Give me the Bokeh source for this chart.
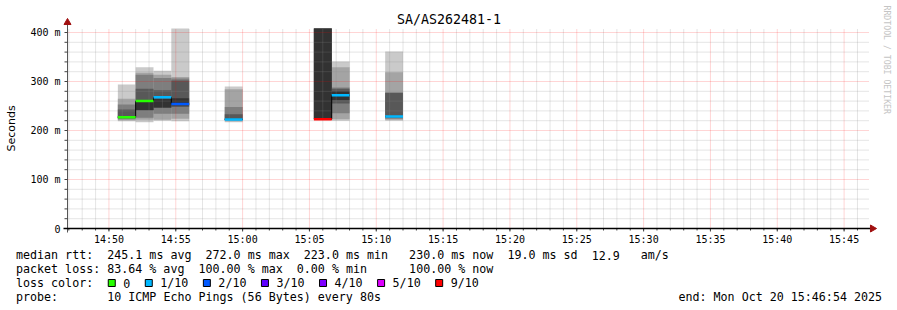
import re
import math
import pandas as pd
from bokeh.plotting import figure
from bokeh.layouts import column
from bokeh.models import Range1d, FixedTicker, DatetimeTickFormatter
from bokeh.core.properties import value
from bokeh.embed import file_html
from bokeh.resources import INLINE

# ---------------- data ----------------
DAY = "2025-10-20"
title_text = "SA/AS262481-1"
start_time = "14:46:54"
end_time = "15:46:54"
step_s = 80

bar_starts = ["14:50:40", "14:52:00", "14:53:20", "14:54:40",
              "14:58:40", "15:05:20", "15:06:40", "15:10:40"]
# sorted ping rtts (ms) per step, 10 pings each
pings = [
    [219, 221, 223, 225, 226, 229, 243, 253, 265, 294],
    [217, 222, 226, 241, 242, 258, 285, 314, 318, 329],
    [220, 222, 234, 246, 247, 265, 282, 307, 314, 322],
    [219, 224, 234, 248, 251, 266, 302, 306, 309, 420],
    [217, 219, 221, 222, 223, 224, 233, 248, 284, 290],
    [223, 223, 223, 223, 223, 420, 420, 420, 420, 420],
    [220, 223, 235, 255, 262, 280, 285, 288, 329, 341],
    [220, 222, 224, 226, 228, 229, 277, 277, 319, 361],
]
medians = [227, 260, 268, 254, 222.5, 223, 272, 228.5]
losses = [0, 0, 1, 2, 1, 9, 1, 1]

smoke_colors = ["#cacaca", "#a4a4a4", "#7e7e7e", "#585858", "#323232"]
loss_keys = [0, 1, 2, 3, 4, 5, 9]
loss_labels = ["0", "1/10", "2/10", "3/10", "4/10", "5/10", "9/10"]
loss_colors = ["#26ff00", "#00b8ff", "#0059ff", "#5e00ff", "#7e00ff", "#dd00ff", "#ff0000"]

x_tick_labels = ["14:50", "14:55", "15:00", "15:05", "15:10", "15:15", "15:20",
                 "15:25", "15:30", "15:35", "15:40", "15:45"]
y_ticks = [0, 100, 200, 300, 400]
y_tick_labels = ["0", "100 m", "200 m", "300 m", "400 m"]
y_minor_step = 20
y_label = "Seconds"

stats_lines = [
    "median rtt:  245.1 ms avg  272.0 ms max  223.0 ms min   230.0 ms now  19.0 ms sd  12.9   am/s",
    "packet loss: 83.64 % avg  100.00 % max  0.00 % min      100.00 % now",
]
loss_title = "loss color:"
probe_line = "probe:       10 ICMP Echo Pings (56 Bytes) every 80s"
end_text = "end: Mon Oct 20 15:46:54 2025"
watermark = "RRDTOOL / TOBI OETIKER"

# ---------------- geometry (pixels) ----------------
W, H = 897, 310
AX_L, AX_R, AX_T, AX_B = 67, 869, 28, 228     # drawing area of the graph
PX_PER_UNIT = 0.49                             # vertical scale
FRAME_B = 233                                  # bottom of the main plotting frame
MAIN_H = 248

def ms(s):
    return pd.Timestamp(f"{DAY} {s}").value / 1e6

t0, t1 = ms(start_time), ms(end_time)
px_x = (t1 - t0) / (AX_R - AX_L)
y_clip = (AX_B - AX_T) / PX_PER_UNIT

def dx(px):
    return t0 + (px - AX_L) * px_x

def dy(py):
    return (AX_B - py) / PX_PER_UNIT

lefts = [ms(s) for s in bar_starts]
rights = [l + step_s * 1000 for l in lefts]

def loss_color(v):
    c = loss_colors[0]
    for k, col in zip(loss_keys, loss_colors):
        if v >= k:
            c = col
    return c

MONO = "DejaVu Sans Mono"

p = figure(width=W, height=MAIN_H, title=None, x_axis_type="datetime",
           x_range=Range1d(dx(0), dx(W)), y_range=Range1d(dy(FRAME_B), dy(0)),
           output_backend="svg", toolbar_location=None, y_axis_location=None,
           min_border_left=0, min_border_right=0,
           min_border_top=0, min_border_bottom=MAIN_H - FRAME_B)
p.background_fill_color = "white"
p.border_fill_color = "white"
p.outline_line_color = None
p.xgrid.visible = False
p.ygrid.visible = False

# smoke layers (clipped at top of graph area like rrdtool)
n = len(pings[0])
for k, col in enumerate(smoke_colors):
    p.quad(left=lefts, right=rights,
           bottom=[min(pp[k], y_clip) for pp in pings],
           top=[min(pp[n - 1 - k], y_clip) for pp in pings],
           fill_color=col, line_color=None)

# grid (dotted), drawn above the smoke
x_ticks = [ms(s + ":00") for s in x_tick_labels]
x_minor = [t for t in (t0 + 6000 + i * 60000 for i in range(60)) if t < t1]
x_minor_only = [t for t in x_minor if all(abs(t - m) > 1 for m in x_ticks)]
y_minor = list(range(y_minor_step, y_ticks[-1] + 1, y_minor_step))
y_minor_only = [v for v in y_minor if v not in y_ticks]
y_major = [v for v in y_ticks if v > 0]

GRID_C, GRID_A = "#8c8c8c", 0.45
MGRID_C, MGRID_A = "#ff0000", 0.33
p.segment(x0=x_minor_only, x1=x_minor_only, y0=0, y1=y_clip,
          line_color=GRID_C, line_alpha=GRID_A, line_width=1, line_dash="1 1")
p.segment(x0=t0, x1=t1, y0=y_minor_only, y1=y_minor_only,
          line_color=GRID_C, line_alpha=GRID_A, line_width=1, line_dash="1 1")
p.segment(x0=x_ticks, x1=x_ticks, y0=0, y1=y_clip,
          line_color=MGRID_C, line_alpha=MGRID_A, line_width=1, line_dash="1 1")
p.segment(x0=t0, x1=t1, y0=y_major, y1=y_major,
          line_color=MGRID_C, line_alpha=MGRID_A, line_width=1, line_dash="1 1")

# median step line (black) + loss coloured segments
p.segment(x0=lefts, x1=rights, y0=medians, y1=medians, line_color="black", line_width=1)
vx, vy0, vy1 = [], [], []
for i in range(len(lefts) - 1):
    if abs(rights[i] - lefts[i + 1]) < 1:
        vx.append(rights[i]); vy0.append(medians[i]); vy1.append(medians[i + 1])
p.segment(x0=vx, x1=vx, y0=vy0, y1=vy1, line_color="black", line_width=1)
p.segment(x0=lefts, x1=rights, y0=medians, y1=medians,
          line_color=[loss_color(v) for v in losses], line_width=2.5)

# axes lines, ticks, arrow heads
ARROW = "#a01010"
TICK = "#444444"
p.segment(x0=t0, x1=t0, y0=dy(AX_B + 4), y1=dy(24), line_color="#555555", line_width=1)
p.segment(x0=dx(AX_L - 3), x1=t0, y0=y_minor, y1=y_minor, line_color=TICK, line_width=1)
p.segment(x0=x_minor, x1=x_minor, y0=0, y1=dy(AX_B + 2), line_color=TICK, line_width=1)
p.segment(x0=x_ticks, x1=x_ticks, y0=0, y1=dy(AX_B + 3), line_color=TICK, line_width=1)
p.segment(x0=dx(AX_L - 4), x1=dx(AX_R + 3), y0=0, y1=0, line_color="black", line_width=1.5)
p.scatter(x=[t0], y=[dy(22)], marker="triangle", size=7, fill_color=ARROW, line_color=ARROW)
p.scatter(x=[dx(AX_R + 3)], y=[0], marker="triangle", size=7, angle=-math.pi / 2,
          fill_color=ARROW, line_color=ARROW)

# y tick labels and axis title as text
p.text(x=[dx(AX_L - 7)] * len(y_ticks), y=y_ticks, text=y_tick_labels,
       text_font=value(MONO), text_font_size="10px", text_align="right",
       text_baseline="middle", text_color="#000000")
p.text(x=[dx(10.5)], y=[dy(128)], text=[y_label], text_font=value("DejaVu Sans"),
       text_font_size="11px", text_align="center", text_baseline="middle",
       text_color="#000000", angle=math.pi / 2)

# x axis labels (ticks drawn above)
xt = FixedTicker(ticks=x_ticks, minor_ticks=x_minor)
p.xaxis.ticker = xt
p.xaxis.formatter = DatetimeTickFormatter(minutes="%H:%M", hourmin="%H:%M", hours="%H:%M",
                                          minsec="%H:%M", seconds="%H:%M")
ax = p.xaxis[0]
ax.axis_line_color = None
ax.major_label_text_font = MONO
ax.major_label_text_font_size = "10px"
ax.major_label_text_color = "#000000"
ax.major_tick_in = 0
ax.minor_tick_in = 0
ax.major_tick_out = 0
ax.minor_tick_out = 0
ax.major_tick_line_color = None
ax.minor_tick_line_color = None
ax.major_label_standoff = 0

# title and watermark inside the frame
p.text(x=[dx(W / 2)], y=[dy(19)], text=[title_text], text_font=value(MONO),
       text_font_size="13.3px", text_align="center", text_baseline="middle", text_color="#000000")
p.text(x=[dx(886.5)], y=[dy(5)], text=[watermark], text_font=value(MONO),
       text_font_size="8.2px", text_align="left", text_baseline="middle",
       text_color="#c4c4c4", angle=-math.pi / 2)

# ---------------- legend figure ----------------
q = figure(width=W, height=H - MAIN_H, title=None,
           x_range=Range1d(0, W), y_range=Range1d(H, MAIN_H),
           output_backend="svg", toolbar_location=None,
           x_axis_location=None, y_axis_location=None,
           min_border_left=0, min_border_right=0, min_border_top=0, min_border_bottom=0)
q.background_fill_color = "white"
q.border_fill_color = "white"
q.outline_line_color = None
q.xgrid.visible = False
q.ygrid.visible = False

CW = 7.02
X0 = 15.5
line_y = [254.5, 268.5, 282.5, 296.5]

tx, ty, tt = [], [], []
def put_line(line, py):
    for m in re.finditer(r"\S+(?: \S+)*", line):
        tx.append(X0 + m.start() * CW); ty.append(py); tt.append(m.group())

put_line(stats_lines[0], line_y[0])
put_line(stats_lines[1], line_y[1])
put_line(loss_title, line_y[2])
bxs = []
bx = X0 + 13 * CW + 1
for lbl in loss_labels:
    bxs.append(bx + 3.5)
    tx.append(bx + 15); ty.append(line_y[2]); tt.append(lbl)
    bx += 15 + len(lbl) * CW + 15
put_line(probe_line, line_y[3])

q.text(x=tx, y=ty, text=tt, text_font=value(MONO), text_font_size="11.66px",
       text_align="left", text_baseline="middle", text_color="#000000")
q.text(x=[881.5], y=[line_y[3]], text=[end_text], text_font=value(MONO),
       text_font_size="11.66px", text_align="right", text_baseline="middle",
       text_color="#000000")
q.rect(x=bxs, y=[line_y[2]] * len(bxs), width=7, height=7,
       fill_color=loss_colors, line_color="black", line_width=1)

layout = column(p, q, spacing=0)
open("out.html", "w").write(file_html(layout, INLINE))
